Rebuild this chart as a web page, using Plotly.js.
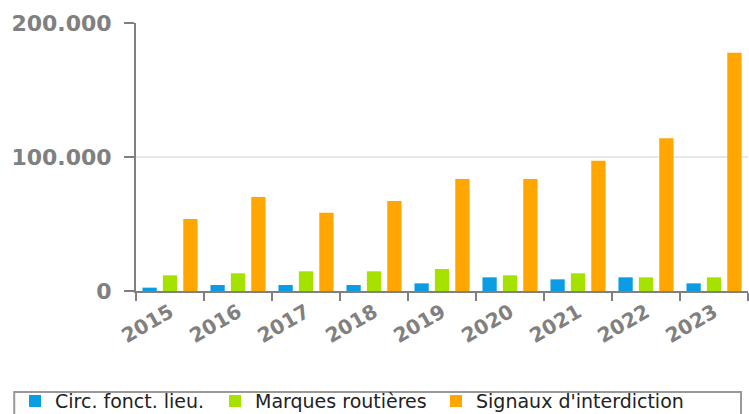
<!DOCTYPE html>
<html>
<head>
<meta charset="utf-8">
<script src="https://cdn.plot.ly/plotly-3.0.1.min.js"></script>
<style>html,body{margin:0;padding:0;background:#fff;}#chart{width:749px;height:414px;}</style>
</head>
<body>
<div id="chart"></div>
<script>
const years = ["2015","2016","2017","2018","2019","2020","2021","2022","2023"];
const circFonctLieu = [2500, 4500, 4500, 4500, 5700, 10200, 8700, 10200, 5700];
const marquesRoutieres = [11700, 13200, 14700, 14700, 16400, 11700, 13200, 10200, 10200];
const signauxInterdiction = [53700, 70100, 58400, 67200, 83600, 83600, 97200, 113900, 177800];
const seriesNames = ["Circ. fonct. lieu.", "Marques routières", "Signaux d'interdiction"];
const seriesColors = ["#0b9de3", "#a6e200", "#ffa600"];
const yTicks = [0, 100000, 200000];

const allSeries = [circFonctLieu, marquesRoutieres, signauxInterdiction];
const legendIds = ["legend", "legend2", "legend3"];
const traces = allSeries.map((vals, i) => ({
  type: "bar",
  name: seriesNames[i],
  x: years,
  y: vals,
  legend: legendIds[i],
  marker: {color: seriesColors[i], line: {width: 0}},
  hoverinfo: "none"
}));

function legendAt(xpx) {
  return {
    xref: "container", yref: "container",
    x: xpx / 749, xanchor: "left",
    y: 0.031, yanchor: "middle",
    font: {family: "DejaVu Sans", size: 19, color: "#222"},
    bgcolor: "rgba(0,0,0,0)",
    borderwidth: 0
  };
}

const layout = {
  width: 749, height: 414,
  margin: {l: 136, r: 1, t: 23, b: 123, pad: 0, autoexpand: false},
  paper_bgcolor: "#fff", plot_bgcolor: "#fff",
  separators: ",.",
  barmode: "group",
  bargap: 0.1,
  bargroupgap: 0.3,
  font: {family: "DejaVu Sans", color: "#808080"},
  xaxis: {
    type: "category",
    automargin: false,
    tickson: "boundaries",
    ticks: "outside", ticklen: 8, tickwidth: 2, tickcolor: "#808080",
    showline: true, linecolor: "#808080", linewidth: 2,
    showgrid: false,
    tickangle: -30,
    tickfont: {family: "DejaVu Sans", size: 20, color: "#808080", weight: "bold"},
    fixedrange: true
  },
  yaxis: {
    automargin: false,
    range: [0, 200000],
    tickvals: yTicks,
    tickformat: ",d",
    ticks: "outside", ticklen: 10, tickwidth: 2, tickcolor: "#808080",
    showline: true, linecolor: "#808080", linewidth: 2,
    showgrid: true, gridcolor: "#e8e8e8", gridwidth: 2,
    zeroline: false,
    tickfont: {family: "DejaVu Sans", size: 22, color: "#808080", weight: "bold"},
    ticklabelstandoff: 8,
    fixedrange: true
  },
  showlegend: true,
  legend: legendAt(15),
  legend2: legendAt(215),
  legend3: legendAt(436),
  shapes: [{
    type: "rect", xref: "paper", yref: "paper",
    x0: -0.199, x1: 0.9886, y0: -0.377, y1: -0.49,
    line: {color: "#999", width: 2}, fillcolor: "rgba(0,0,0,0)", layer: "below"
  }]
};

Plotly.newPlot("chart", traces, layout, {displayModeBar: false, staticPlot: true});
</script>
</body>
</html>
